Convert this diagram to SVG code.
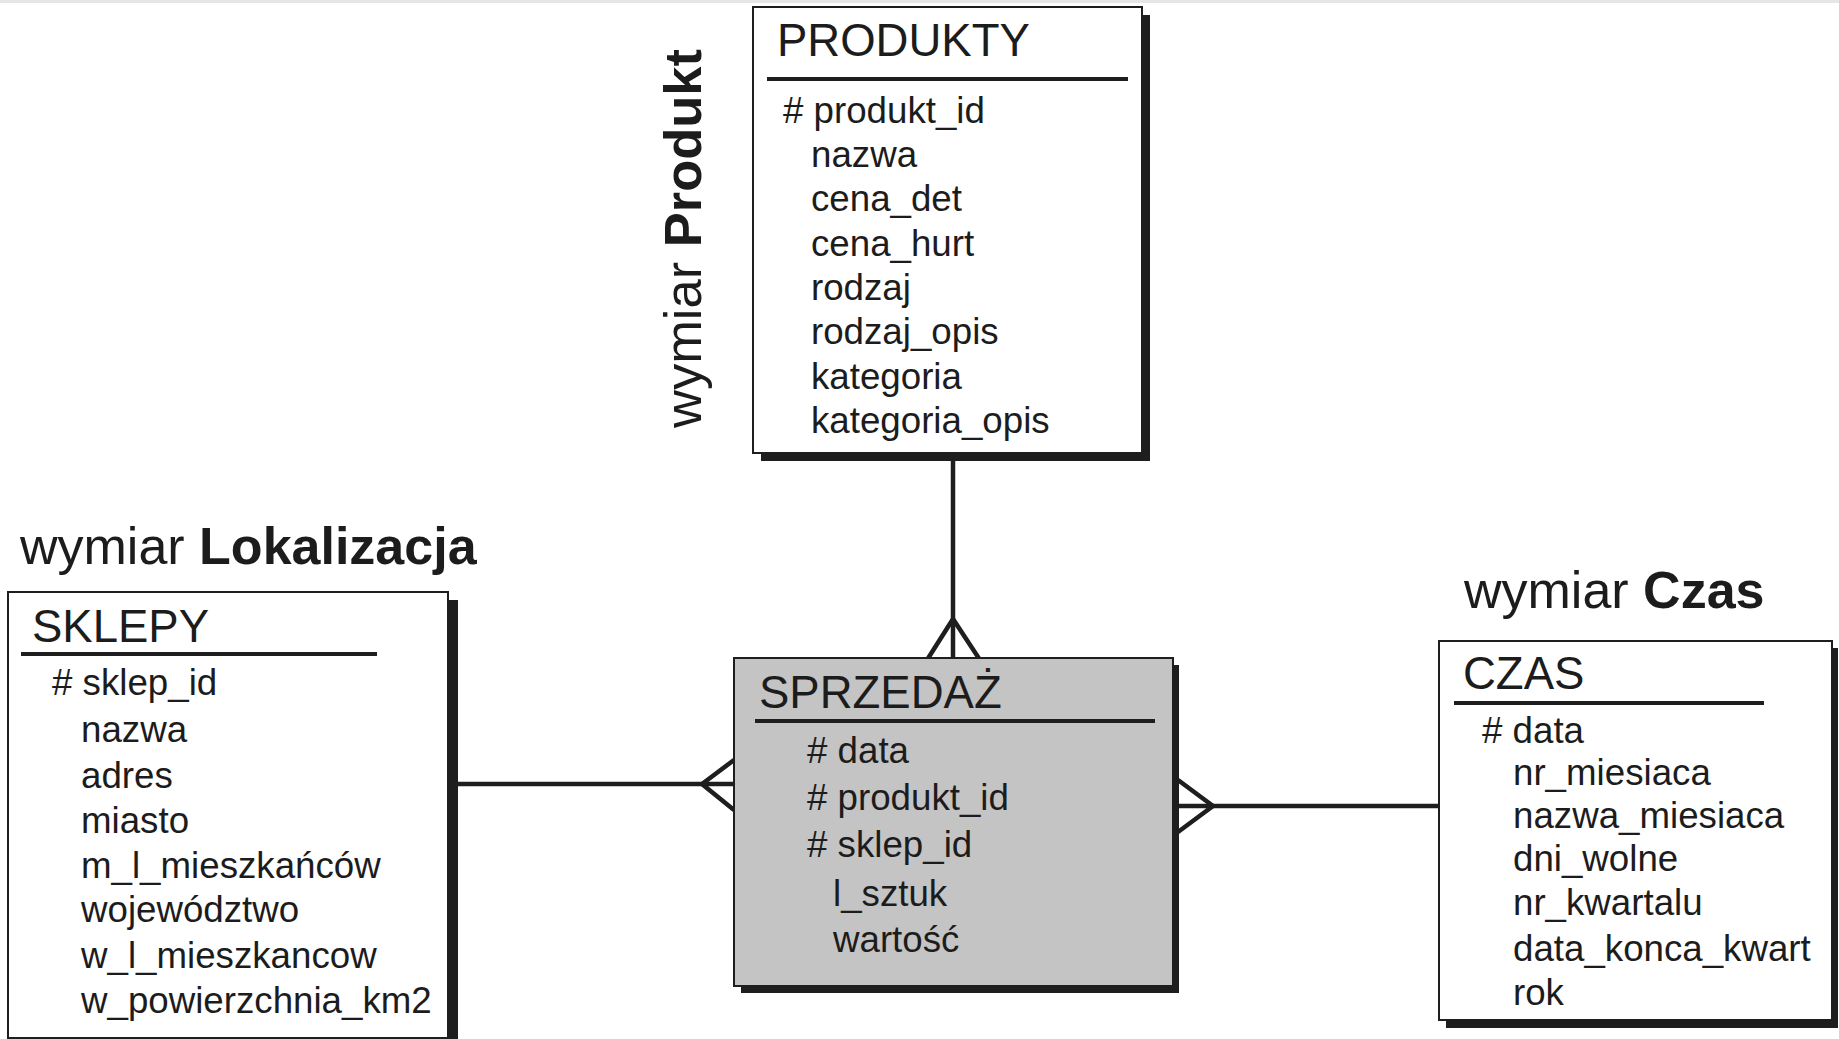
<svg xmlns="http://www.w3.org/2000/svg" width="1839" height="1039" viewBox="0 0 1839 1039">
  <style>
    text { font-family: "Liberation Sans", Arial, sans-serif; fill: #1c1c1c; }
    .title { font-size: 45.5px; }
    .attr { font-size: 36.7px; }
    .dim { font-size: 52px; }
    .dim tspan.b { font-weight: bold; }
    .shadow { fill: #1e1e1e; }
    .box { fill: #ffffff; stroke: #1e1e1e; stroke-width: 2; }
    .box.fact { fill: #c4c4c4; }
    .rule { stroke: #1e1e1e; stroke-width: 4; }
    .link { stroke: #1e1e1e; stroke-width: 4.5; fill: none; stroke-linecap: butt; stroke-linejoin: miter; }
  </style>

  <rect x="0" y="0" width="1839" height="1039" fill="#ffffff"/>
  <rect x="0" y="0" width="1839" height="3" fill="#e6e6e6"/>

  <!-- dimension captions -->
  <g id="label-produkt">
    <text class="dim" transform="translate(701,428) rotate(-90)" font-size="54" textLength="379" lengthAdjust="spacingAndGlyphs">wymiar <tspan class="b">Produkt</tspan></text>
  </g>
  <g id="label-lokalizacja">
    <text class="dim" x="20" y="564">wymiar <tspan class="b">Lokalizacja</tspan></text>
  </g>
  <g id="label-czas">
    <text class="dim" x="1464" y="608">wymiar <tspan class="b">Czas</tspan></text>
  </g>

  <!-- relationships: one dimension row to many fact rows -->
  <g id="connectors">
    <path class="link" d="M953,461 V658"/>
    <path class="link" d="M927,660 L953,619 L980,660"/>
    <path class="link" d="M458,784 H734"/>
    <path class="link" d="M734,760 L702,784 L734,810"/>
    <path class="link" d="M1178,806 H1439"/>
    <path class="link" d="M1178,780 L1213,806 L1178,832"/>
  </g>

  <g id="produkty">
    <rect class="shadow" x="761" y="15" width="389" height="446"/>
    <rect class="box" x="753" y="7" width="389" height="446"/>
    <text class="title" x="777" y="56">PRODUKTY</text>
    <line class="rule" x1="767" y1="79" x2="1128" y2="79"/>
    <text class="attr" x="783" y="123"># produkt_id</text>
    <text class="attr" x="811" y="167">nazwa</text>
    <text class="attr" x="811" y="211">cena_det</text>
    <text class="attr" x="811" y="256">cena_hurt</text>
    <text class="attr" x="811" y="300">rodzaj</text>
    <text class="attr" x="811" y="344">rodzaj_opis</text>
    <text class="attr" x="811" y="389">kategoria</text>
    <text class="attr" x="811" y="433">kategoria_opis</text>
  </g>

  <g id="sklepy">
    <rect class="shadow" x="16" y="600" width="442" height="446"/>
    <rect class="box" x="8" y="592" width="440" height="446"/>
    <text class="title" x="32" y="642">SKLEPY</text>
    <line class="rule" x1="21" y1="654" x2="377" y2="654"/>
    <text class="attr" x="52" y="695"># sklep_id</text>
    <text class="attr" x="81" y="742">nazwa</text>
    <text class="attr" x="81" y="788">adres</text>
    <text class="attr" x="81" y="833">miasto</text>
    <text class="attr" x="81" y="878">m_l_mieszkańców</text>
    <text class="attr" x="81" y="922">województwo</text>
    <text class="attr" x="81" y="968">w_l_mieszkancow</text>
    <text class="attr" x="81" y="1013">w_powierzchnia_km2</text>
  </g>

  <g id="sprzedaz">
    <rect class="shadow" x="741" y="665" width="438" height="328"/>
    <rect class="box fact" x="734" y="658" width="439" height="328"/>
    <text class="title" x="759" y="708">SPRZEDAŻ</text>
    <line class="rule" x1="755" y1="721" x2="1155" y2="721"/>
    <text class="attr" x="807" y="763"># data</text>
    <text class="attr" x="807" y="810"># produkt_id</text>
    <text class="attr" x="807" y="857"># sklep_id</text>
    <text class="attr" x="833" y="906">l_sztuk</text>
    <text class="attr" x="833" y="952">wartość</text>
  </g>

  <g id="czas">
    <rect class="shadow" x="1446" y="648" width="392" height="380"/>
    <rect class="box" x="1439" y="641" width="393" height="379"/>
    <text class="title" x="1463" y="689">CZAS</text>
    <line class="rule" x1="1454" y1="703" x2="1764" y2="703"/>
    <text class="attr" x="1482" y="743"># data</text>
    <text class="attr" x="1513" y="785">nr_miesiaca</text>
    <text class="attr" x="1513" y="828">nazwa_miesiaca</text>
    <text class="attr" x="1513" y="871">dni_wolne</text>
    <text class="attr" x="1513" y="915">nr_kwartalu</text>
    <text class="attr" x="1513" y="961">data_konca_kwart</text>
    <text class="attr" x="1513" y="1005">rok</text>
  </g>
</svg>
